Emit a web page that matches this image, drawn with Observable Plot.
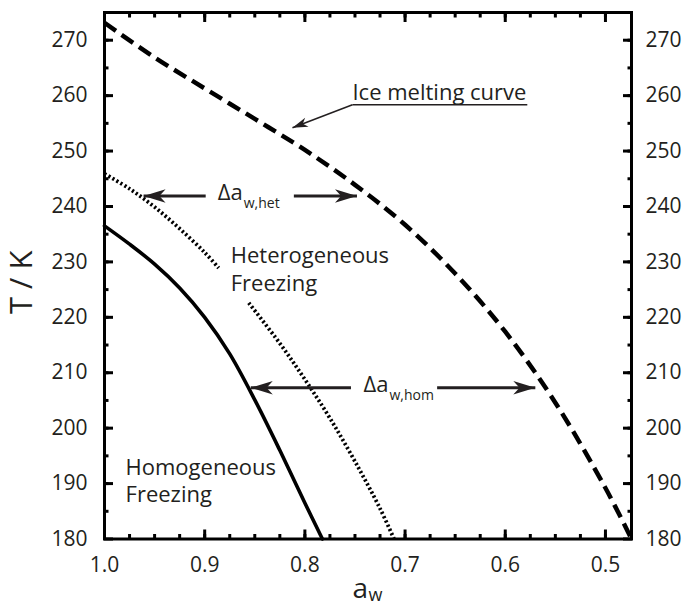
<!DOCTYPE html>
<html>
<head>
<meta charset="utf-8">
<script src="https://cdn.jsdelivr.net/npm/d3@7"></script>
<script src="https://cdn.jsdelivr.net/npm/@observablehq/plot@0.6"></script>
<style>
  body { margin: 0; background: #fff; }
</style>
</head>
<body>
<div id="chart"></div>
<script>
// Ice melting curve (water activity vs temperature)
const iceAw = [1.0, 0.95, 0.90, 0.85, 0.80, 0.75, 0.70, 0.65, 0.60, 0.55, 0.50, 0.474];
const iceT  = [273.15, 266.9, 261.3, 255.8, 250.2, 243.9, 236.7, 227.9, 217.4, 204.6, 189.2, 180];

// Heterogeneous freezing curve (interrupted behind its label)
const hetAw = [1.0, 0.975, 0.95, 0.925, 0.90, 0.886, null, 0.856, 0.825, 0.80, 0.775, 0.75, 0.725, 0.711];
const hetT  = [245.9, 243.2, 239.9, 236.0, 231.7, 228.9, null, 222.6, 215.3, 208.8, 201.8, 194.0, 185.5, 180];

// Homogeneous freezing curve
const homAw = [1.0, 0.975, 0.95, 0.925, 0.90, 0.875, 0.85, 0.825, 0.80, 0.7825];
const homT  = [236.5, 233.2, 229.6, 225.3, 220.0, 213.4, 205.1, 196.0, 186.5, 180];

// Δa_w arrows: level, tail and tip (in water activity)
const arrowT    = [241.9, 241.9, 207.3, 207.3];
const arrowTail = [0.899, 0.811, 0.754, 0.668];
const arrowTip  = [0.961, 0.748, 0.854, 0.570];

// Δa_w labels: subscript, junction between "Δa" and the subscript, level
const deltaSub = ["w,het", "w,hom"];
const deltaAw  = [0.862, 0.7166];
const deltaT   = [241.9, 207.3];

// Region labels
const regionText = ["Heterogeneous\nFreezing", "Homogeneous\nFreezing"];
const regionAw   = [0.874, 0.979];
const regionT    = [233.3, 195.1];

// Ice melting curve label with underline and leader
const iceLabel = "Ice melting curve";
const iceLabelAw = [0.7525, 0.578];   // underline start / end
const iceLabelT  = 258.36;            // underline level
const iceLabelTop = 262.1;            // top of the text
const iceLeaderTip = [0.8124, 254.2];

// Axis domains and ticks
const xDomain = [1.0, 0.474];
const yDomain = [180, 275];
const xMajor = [1.0, 0.9, 0.8, 0.7, 0.6, 0.5];
const xMinor = d3.range(20, 40).map(i => i * 0.025);
const yMajor = [180, 190, 200, 210, 220, 230, 240, 250, 260, 270];
const yMinor = d3.range(37, 55).map(i => i * 5);

const toRows = (xs, ys) => xs.map((x, i) => ({aw: x, T: ys[i]}));
const ice = toRows(iceAw, iceT);
const het = toRows(hetAw, hetT);
const hom = toRows(homAw, homT);
const arrows = arrowT.map((T, i) => ({T, tail: arrowTail[i], tip: arrowTip[i]}));
const deltas = deltaSub.map((s, i) => ({sub: s, aw: deltaAw[i], T: deltaT[i]}));
const regions = regionText.map((t, i) => ({text: t, aw: regionAw[i], T: regionT[i]}));

const ink = "#231f20";

// Filled arrowhead with a notched back; the tip sits on the anchor point
const arrowHead = {
  draw(context, size) {
    const r = Math.sqrt(size / Math.PI);
    const L = 2.2 * r, w = 0.68 * r, n = 0.28 * L;
    context.moveTo(0, 0);
    context.lineTo(-L, -w);
    context.lineTo(-L + n, 0);
    context.lineTo(-L, w);
    context.closePath();
  }
};

const font = "'Open Sans', 'Noto Sans', sans-serif";

// inward ticks (negative size points into the frame)
const inward = (values, anchor, size) => (anchor === "top" || anchor === "bottom" ? Plot.axisX : Plot.axisY)(values, {
  anchor, tickSize: -size, strokeWidth: 3, stroke: "black", tickFormat: () => "", label: null
});

const chart = Plot.plot({
  width: 688,
  height: 607,
  marginLeft: 104,
  marginRight: 57,
  marginTop: 12,
  marginBottom: 68.5,
  x: {domain: xDomain},
  y: {domain: yDomain},
  style: {fontFamily: font, fontSize: "21px", color: ink, background: "white"},
  marks: [
    inward(xMinor, "bottom", 4.5),
    inward(xMajor, "bottom", 9),
    inward(xMinor, "top", 4.5),
    inward(xMajor, "top", 9),
    inward(yMinor, "left", 4.5),
    inward(yMajor, "left", 9),
    inward(yMinor, "right", 4.5),
    inward(yMajor, "right", 9),

    // tick labels
    Plot.axisX(xMajor, {anchor: "bottom", tickSize: 0, tickPadding: 18.5, tickFormat: d => d.toFixed(1), label: null}),
    Plot.axisY(yMajor, {anchor: "left", tickSize: 0, tickPadding: 17, label: null}),
    Plot.axisY(yMajor, {anchor: "right", tickSize: 0, tickPadding: 14, label: null}),

    // curves
    Plot.line(ice, {x: "aw", y: "T", stroke: "black", strokeWidth: 4.5, strokeDasharray: "14,7", strokeLinecap: "butt", curve: "catmull-rom"}),
    Plot.line(het, {x: "aw", y: "T", stroke: "black", strokeWidth: 3.8, strokeDasharray: "2.2,2.4", strokeLinecap: "butt", curve: "catmull-rom"}),
    Plot.line(hom, {x: "aw", y: "T", stroke: "black", strokeWidth: 3.6, curve: "catmull-rom"}),

    // Δa_w arrows
    Plot.link(arrows, {x1: "tail", x2: "tip", y1: "T", y2: "T", stroke: ink, strokeWidth: 3}),
    Plot.dot(arrows, {x: "tip", y: "T", r: 10, symbol: arrowHead, fill: ink, stroke: "none",
      rotate: d => (d.tip < d.tail ? 0 : 180)}),

    // Δa_w labels
    Plot.text(deltas, {x: "aw", y: "T", text: () => "Δa", textAnchor: "end", dy: -2.5, fontSize: 22, fill: ink}),
    Plot.text(deltas, {x: "aw", y: "T", text: "sub", textAnchor: "start", dx: 1, dy: 8, fontSize: 14, fill: ink}),

    // region labels
    Plot.text(regions, {x: "aw", y: "T", text: "text", textAnchor: "start", lineAnchor: "top", lineHeight: 1.25, fontSize: 22, fill: ink}),

    // ice melting curve label, underline and leader arrow
    Plot.text([iceLabel], {x: iceLabelAw[0], y: iceLabelTop, text: d => d, textAnchor: "start", lineAnchor: "top", fontSize: 22, fill: ink}),
    Plot.link([iceLabelT], {x1: iceLabelAw[0], x2: iceLabelAw[1], y1: d => d, y2: d => d, stroke: ink, strokeWidth: 1.5}),
    Plot.link([iceLeaderTip], {x1: iceLabelAw[0], y1: iceLabelT, x2: d => d[0], y2: d => d[1], stroke: ink, strokeWidth: 1.5}),
    Plot.dot([iceLeaderTip], {x: d => d[0], y: d => d[1], r: 7, symbol: arrowHead, fill: ink, stroke: "none", rotate: 159}),

    // axis titles
    Plot.text(["T / K"], {frameAnchor: "left", text: d => d, rotate: -90, textAnchor: "middle", lineAnchor: "middle", dx: -82.5, dy: 6.5, fontSize: 31, fill: ink}),
    Plot.text(["a"], {frameAnchor: "bottom", text: d => d, textAnchor: "end", lineAnchor: "middle", dy: 50.5, fontSize: 28, fill: ink}),
    Plot.text(["w"], {frameAnchor: "bottom", text: d => d, textAnchor: "start", lineAnchor: "middle", dx: 0.5, dy: 56.7, fontSize: 18, fill: ink}),

    Plot.frame({stroke: "black", strokeWidth: 3})
  ]
});

document.getElementById("chart").append(chart);
</script>
</body>
</html>
